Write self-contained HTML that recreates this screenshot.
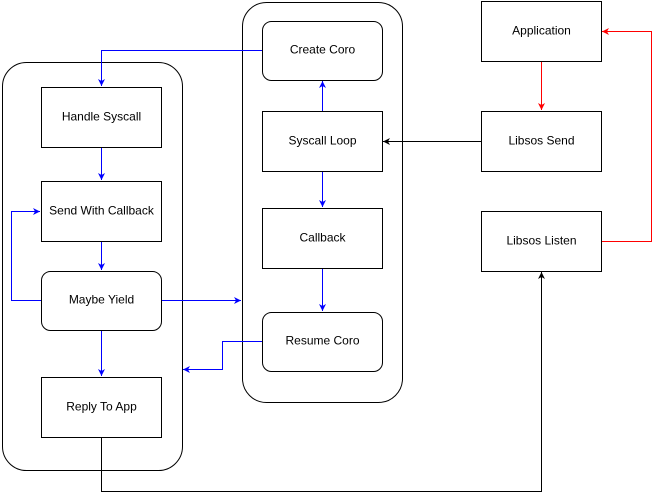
<!DOCTYPE html>
<html><head><style>html,body{margin:0;padding:0;background:#fff}svg{display:block}</style></head><body>
<svg width="661" height="504" viewBox="0 0 661 504" xmlns="http://www.w3.org/2000/svg" font-family="Liberation Sans, Arial, sans-serif" font-size="12">
<defs>
<marker id="ab" markerWidth="8" markerHeight="8" refX="7" refY="4" orient="auto" markerUnits="userSpaceOnUse"><path d="M0,0.5 L7,4 L0,7.5 L2,4 z" fill="#0000ff"/></marker>
<marker id="ak" markerWidth="8" markerHeight="8" refX="7" refY="4" orient="auto" markerUnits="userSpaceOnUse"><path d="M0,0.5 L7,4 L0,7.5 L2,4 z" fill="#000"/></marker>
<marker id="ar" markerWidth="8" markerHeight="8" refX="7" refY="4" orient="auto" markerUnits="userSpaceOnUse"><path d="M0,0.5 L7,4 L0,7.5 L2,4 z" fill="#ff0000"/></marker>
</defs>
<g fill="#fff" stroke="#000" stroke-width="1">
<rect x="2.5" y="62.5" width="180" height="408" rx="24"/>
<rect x="242.5" y="2.5" width="160" height="400" rx="24"/>
<rect x="41.5" y="87.5" width="120" height="60"/>
<rect x="41.5" y="181.5" width="120" height="60"/>
<rect x="41.5" y="271.5" width="120" height="59" rx="9"/>
<rect x="41.5" y="377.5" width="120" height="60"/>
<rect x="262.5" y="21.5" width="120" height="59" rx="9"/>
<rect x="262.5" y="111.5" width="120" height="60"/>
<rect x="262.5" y="208.5" width="120" height="60"/>
<rect x="262.5" y="312.5" width="120" height="59" rx="9"/>
<rect x="481.5" y="1.5" width="120" height="60"/>
<rect x="481.5" y="111.5" width="120" height="60"/>
<rect x="481.5" y="211.5" width="120" height="60"/>
</g>
<g fill="none" stroke-width="1">
<path d="M262,50.5 H101.5 V86" stroke="#0000ff" marker-end="url(#ab)"/>
<path d="M322.5,111 V81" stroke="#0000ff" marker-end="url(#ab)"/>
<path d="M322.5,172 V207" stroke="#0000ff" marker-end="url(#ab)"/>
<path d="M322.5,269 V311" stroke="#0000ff" marker-end="url(#ab)"/>
<path d="M101.5,148 V180" stroke="#0000ff" marker-end="url(#ab)"/>
<path d="M101.5,242 V270" stroke="#0000ff" marker-end="url(#ab)"/>
<path d="M101.5,331 V376" stroke="#0000ff" marker-end="url(#ab)"/>
<path d="M41,300.5 H11.5 V211.5 H40" stroke="#0000ff" marker-end="url(#ab)"/>
<path d="M162,300.5 H241" stroke="#0000ff" marker-end="url(#ab)"/>
<path d="M262,341.5 H222.5 V369.5 H183" stroke="#0000ff" marker-end="url(#ab)"/>
<path d="M481,141.5 H383" stroke="#000" marker-end="url(#ak)"/>
<path d="M101.5,438 V491.5 H541.5 V272" stroke="#000" marker-end="url(#ak)"/>
<path d="M541.5,62 V110" stroke="#ff0000" marker-end="url(#ar)"/>
<path d="M602,241.5 H651.5 V31.5 H602" stroke="#ff0000" marker-end="url(#ar)"/>
</g>
<g text-anchor="middle" fill="#000">
<text x="101.5" y="120.5">Handle Syscall</text>
<text x="101.5" y="214.5">Send With Callback</text>
<text x="101.5" y="303.5">Maybe Yield</text>
<text x="101.5" y="410.5">Reply To App</text>
<text x="322.5" y="53.5">Create Coro</text>
<text x="322.5" y="144.5">Syscall Loop</text>
<text x="322.5" y="241.5">Callback</text>
<text x="322.5" y="344.5">Resume Coro</text>
<text x="541.5" y="34.5">Application</text>
<text x="541.5" y="144.5">Libsos Send</text>
<text x="541.5" y="244.5">Libsos Listen</text>
</g>
</svg>
</body></html>
